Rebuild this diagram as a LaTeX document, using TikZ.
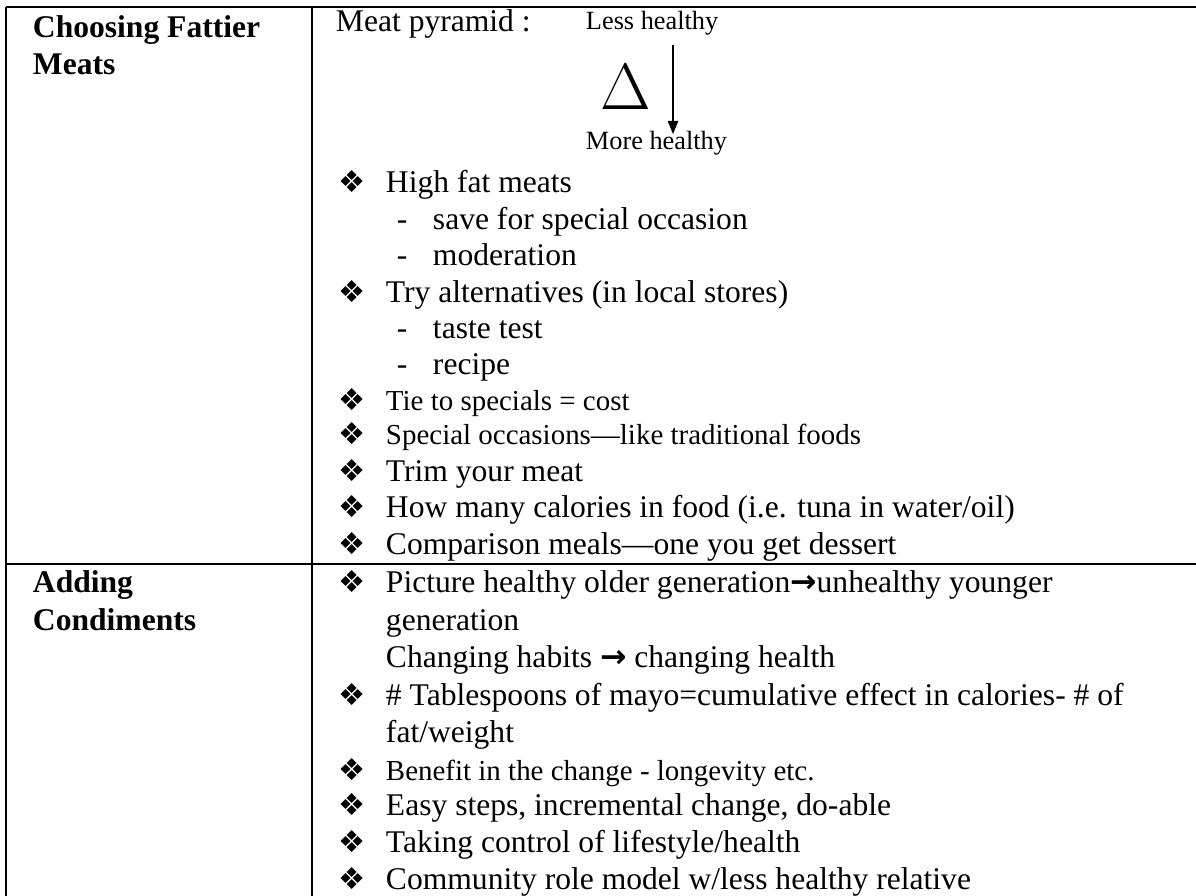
\documentclass[tikz,border=0pt]{standalone}
\usepackage{fontspec}
\setmainfont{Liberation Serif}
\newfontfamily\symfont{DejaVu Sans}
\usetikzlibrary{arrows.meta,positioning}

\begin{document}
\begin{tikzpicture}[x=0.38pt, y=-0.38pt, line width=0.75pt,
  txt/.style={anchor=base west,inner sep=0pt,font=\fontsize{12}{14}\selectfont},
  small txt/.style={anchor=base west,inner sep=0pt,font=\fontsize{11}{13}\selectfont},
  label txt/.style={anchor=base west,inner sep=0pt,font=\fontsize{10}{12}\selectfont},
  head txt/.style={anchor=base west,inner sep=0pt,font=\fontsize{12}{14}\selectfont\bfseries},
  bul/.style={anchor=base west,inner sep=0pt,font=\symfont\fontsize{11.5}{13}\selectfont},
  subdash/.style={anchor=base west,inner sep=0pt,font=\fontsize{12}{14}\selectfont}]
\useasboundingbox (0,0) rectangle (1196,896);
% table rules
\draw (6,7) -- (1196,7);
\draw (6,7) -- (6,896);
\draw (312,7) -- (312,896);
\draw (6,564) -- (1196,564);
% left column
\node[head txt] (h1a) at (32,38) {Choosing Fattier};
\node[head txt] (h1b) at (32,75) {Meats};
\node[head txt] (h2a) at (32,593) {Adding};
\node[head txt] (h2b) at (32,631) {Condiments};
% meat pyramid
\node[txt] (pyr) at (335,32) {Meat pyramid :};
\node[label txt] (less) at (585,30) {Less healthy};
\node[anchor=base west,inner sep=0pt,font=\fontsize{24}{28}\selectfont] (delta) at (600,110) {$\Delta$};
\node[label txt] (more) at (585,150) {More healthy};
\coordinate (atop) at (673,45);
\coordinate (abot) at (673,134);
\draw[line width=0.45pt,-{Triangle[length=5pt,width=4pt]}] (atop) -- (abot);
% first row items
\begin{scope}
\node[bul] (b1) at (338,193) {❖};
\node[txt] (i1) at (385,193) {High fat meats};
\node[subdash] (d1) at (396,230) {-};
\node[txt] (i1a) at (432,230) {save for special occasion};
\node[subdash] (d2) at (396,266) {-};
\node[txt] (i1b) at (432,266) {moderation};
\node[bul] (b2) at (338,303) {❖};
\node[txt] (i2) at (385,303) {Try alternatives (in local stores)};
\node[subdash] (d3) at (396,339) {-};
\node[txt] (i2a) at (432,339) {taste test};
\node[subdash] (d4) at (396,375) {-};
\node[txt] (i2b) at (432,375) {recipe};
\node[bul] (b3) at (338,411) {❖};
\node[small txt] (i3) at (385,411) {Tie to specials = cost};
\node[bul] (b4) at (338,445) {❖};
\node[small txt] (i4) at (385,445) {Special occasions—like traditional foods};
\node[bul] (b5) at (338,482) {❖};
\node[txt] (i5) at (385,482) {Trim your meat};
\node[bul] (b6) at (338,518) {❖};
\node[txt] (i6) at (385,518) {How many calories in food (i.e. tuna in water/oil)};
\node[bul] (b7) at (338,555) {❖};
\node[txt] (i7) at (385,555) {Comparison meals—one you get dessert};
\end{scope}
% second row items
\begin{scope}
\node[bul] (c1) at (338,593) {❖};
\node[txt] (j1) at (385,593) {Picture healthy older generation{\symfont\bfseries →}unhealthy younger};
\node[txt] (j1a) at (385,631) {generation};
\node[txt] (j1b) at (385,668) {Changing habits {\symfont\bfseries →} changing health};
\node[bul] (c2) at (338,705) {❖};
\node[txt] (j2) at (385,705) {\# Tablespoons of mayo=cumulative effect in calories- \# of};
\node[txt] (j2a) at (385,742) {fat/weight};
\node[bul] (c3) at (338,780) {❖};
\node[small txt] (j3) at (385,780) {Benefit in the change - longevity etc.};
\node[bul] (c4) at (338,815) {❖};
\node[txt] (j4) at (385,815) {Easy steps, incremental change, do-able};
\node[bul] (c5) at (338,852) {❖};
\node[txt] (j5) at (385,852) {Taking control of lifestyle/health};
\node[bul] (c6) at (338,889) {❖};
\node[txt] (j6) at (385,889) {Community role model w/less healthy relative};
\end{scope}
\end{tikzpicture}
\end{document}
